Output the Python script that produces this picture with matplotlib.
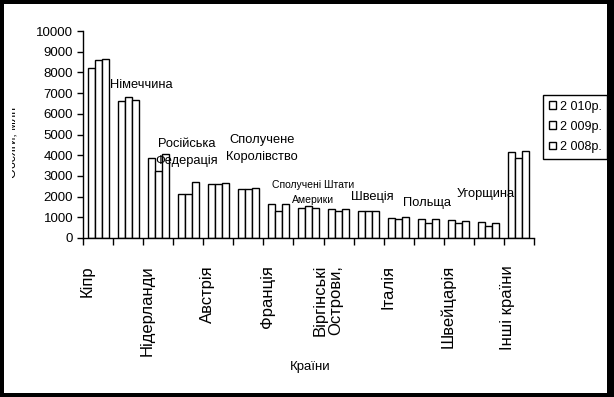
import matplotlib
matplotlib.use("Agg")
import matplotlib.pyplot as plt
import numpy as np
from matplotlib.patches import Rectangle
from matplotlib.transforms import ScaledTranslation, Bbox, TransformedBbox

plt.rcParams["font.family"] = ["Liberation Sans", "DejaVu Sans"]

countries = [
    "Кіпр", "Німеччина", "Нідерланди", "Російська Федерація", "Австрія",
    "Сполучене Королівство", "Франція", "Сполучені Штати Америки",
    "Віргінські Острови,", "Швеція", "Італія", "Польща", "Швейцарія",
    "Угорщина", "Інші країни",
]
years = ["2 010р.", "2 009р.", "2 008р."]
v2010 = [8200, 6600, 3850, 2110, 2590, 2350, 1630, 1430, 1380, 1300, 970, 900, 850, 760, 4140]
v2009 = [8580, 6830, 3250, 2110, 2590, 2350, 1300, 1530, 1300, 1300, 900, 740, 710, 560, 3880]
v2008 = [8630, 6650, 4040, 2690, 2640, 2400, 1630, 1430, 1380, 1300, 1000, 900, 820, 710, 4190]

# even categories go on the axis, odd ones are written above the bars
axis_labels = ["Кіпр", "Нідерланди", "Австрія", "Франція", "Віргінські\nОстрови,",
               "Італія", "Швейцарія", "Інші країни"]
note_labels = ["Німеччина", "Російська\nФедерація", "Сполучене\nКоролівство",
               "Сполучені Штати\nАмерики", "Швеція", "Польща", "Угорщина"]
# (x in category units, y in data units, font size, line spacing)
note_pos = [(1.43, 7390, 9.3, 1.2), (2.96, 4150, 9.3, 1.55), (5.45, 4320, 9.3, 1.55),
            (7.15, 2200, 7.5, 1.55), (9.11, 1980, 9.3, 1.2), (10.94, 1690, 9.3, 1.2),
            (12.90, 2130, 9.3, 1.2)]

W, H = 614, 397
fig = plt.figure(figsize=(W / 100, H / 100), dpi=100, facecolor="black")
fig.patches.append(Rectangle((4 / W, 4 / H), 603 / W, 389 / H, transform=fig.transFigure,
                             facecolor="white", edgecolor="none", zorder=-10))

ax = fig.add_axes([83 / W, 1 - 238 / H, 451 / W, 207 / H])
ax.set_facecolor("none")

x = np.arange(len(countries))
bw = 0.233
for i, (vals, lab) in enumerate(zip([v2010, v2009, v2008], years)):
    ax.bar(x + (i - 1) * bw, vals, width=bw, color="white", edgecolor="black",
           linewidth=1.0, label=lab)

ax.set_xlim(-0.5, len(countries) - 0.5)
ax.set_ylim(0, 10000)
ax.set_yticks(np.arange(0, 10001, 1000))
ax.tick_params(axis="y", direction="out", length=4, width=1, pad=3, labelsize=9.5)

ax.set_xticks(np.arange(-0.5, len(countries), 1))
ax.set_xticklabels([])
ax.tick_params(axis="x", which="major", direction="out", length=5, width=1)
ax.set_xticks(x[::2], minor=True)
ax.set_xticklabels(axis_labels, minor=True, rotation=90, fontsize=12,
                   multialignment="right", linespacing=1.05)
ax.tick_params(axis="x", which="minor", length=0, pad=19.5)
shift = ScaledTranslation(-0.11, 0, fig.dpi_scale_trans)
for t in ax.get_xticklabels(minor=True):
    t.set_transform(t.get_transform() + shift)

for s in ["top", "right"]:
    ax.spines[s].set_visible(False)
for s in ["left", "bottom"]:
    ax.spines[s].set_linewidth(1)

for lab, (nx, ny, fs, ls) in zip(note_labels, note_pos):
    ax.text(nx, ny, lab, ha="center", va="center", fontsize=fs, linespacing=ls)

ax.set_xlabel("Країни", fontsize=9.5)
ax.xaxis.label.set_verticalalignment("center")
ax.xaxis.set_label_coords(0.503, -0.623)

# y title is cut off by the chart area in the original
yl = fig.text(20 / W, 1 - 142 / H, "Обсяги, млн", rotation=90, ha="right",
              va="center", fontsize=9, clip_on=True)
yl.set_clip_box(TransformedBbox(Bbox([[12 / W, 0], [17 / W, 1]]), fig.transFigure))

leg = ax.legend(loc="upper left", bbox_to_anchor=(543 / W, 1 - 95 / H),
                bbox_transform=fig.transFigure, fancybox=False, edgecolor="black",
                framealpha=1, fontsize=9, handlelength=0.6, handleheight=0.6,
                handletextpad=0.3, borderpad=0.45, labelspacing=0.65, borderaxespad=0)
leg.get_frame().set_linewidth(1)

fig.savefig("out.png", dpi=100, facecolor="black")
